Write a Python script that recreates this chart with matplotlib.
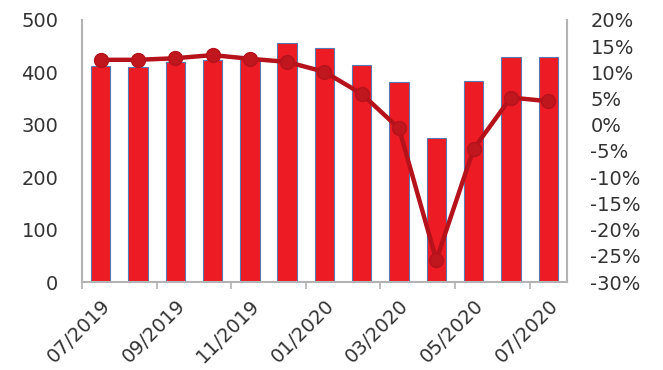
import matplotlib.pyplot as plt
import numpy as np

# Dados
meses = ["07/2019", "08/2019", "09/2019", "10/2019", "11/2019", "12/2019", "01/2020",
         "02/2020", "03/2020", "04/2020", "05/2020", "06/2020", "07/2020"]
volume = [413, 410, 419, 424, 425, 457, 447, 415, 381, 274, 384, 430, 430]
variacao = [12.4, 12.4, 12.7, 13.3, 12.6, 12.0, 10.1, 5.9, -0.7, -25.8, -4.6, 5.2, 4.5]

x = np.arange(len(meses))
cor_texto = "#333333"
cor_eixo = "#B3B3B3"

fig = plt.figure(figsize=(6.63, 3.70), dpi=100)
ax = fig.add_axes([0.1237, 0.2378, 0.7313, 0.7082])

# Barras
ax.bar(x, volume, width=0.52, color="#ED1C24", edgecolor="#5B78B0", linewidth=0.8, zorder=2)
ax.set_xlim(-0.5, len(meses) - 0.5)
ax.set_ylim(0, 500)
ax.set_yticks([0, 100, 200, 300, 400, 500])

# Eixo da direita com a variação
ax2 = ax.twinx()
ax2.plot(x, variacao, color="#B5121B", linewidth=3.2, marker="o", markersize=10,
         markerfacecolor="#C0161E", markeredgecolor="#B5121B", zorder=3)
ax2.set_ylim(-30, 20)
ax2.set_yticks(np.arange(-30, 21, 5))
ax2.set_yticklabels([f"{v}%" for v in range(-30, 21, 5)])

# Rótulos do eixo x a cada dois meses, marcas entre as categorias
ax.set_xticks(x[::2])
ax.set_xticklabels(meses[::2], rotation=45, ha="right", rotation_mode="anchor")
ax.set_xticks(np.arange(-0.5, len(meses), 2), minor=True)
ax.tick_params(axis="x", which="major", length=0, pad=10)
ax.tick_params(axis="x", which="minor", length=5, color=cor_eixo, width=1.2)

for a in (ax, ax2):
    a.spines["top"].set_visible(False)
    for lado in ("left", "right", "bottom"):
        a.spines[lado].set_color(cor_eixo)
        a.spines[lado].set_linewidth(1.5)
    a.tick_params(labelsize=14, labelcolor=cor_texto)

ax.spines["right"].set_visible(False)
ax2.spines["left"].set_visible(False)
ax2.spines["bottom"].set_visible(False)
ax.tick_params(axis="y", length=0, pad=17)
ax2.tick_params(axis="y", length=0, pad=17)

fig.savefig("out.png", dpi=100)
